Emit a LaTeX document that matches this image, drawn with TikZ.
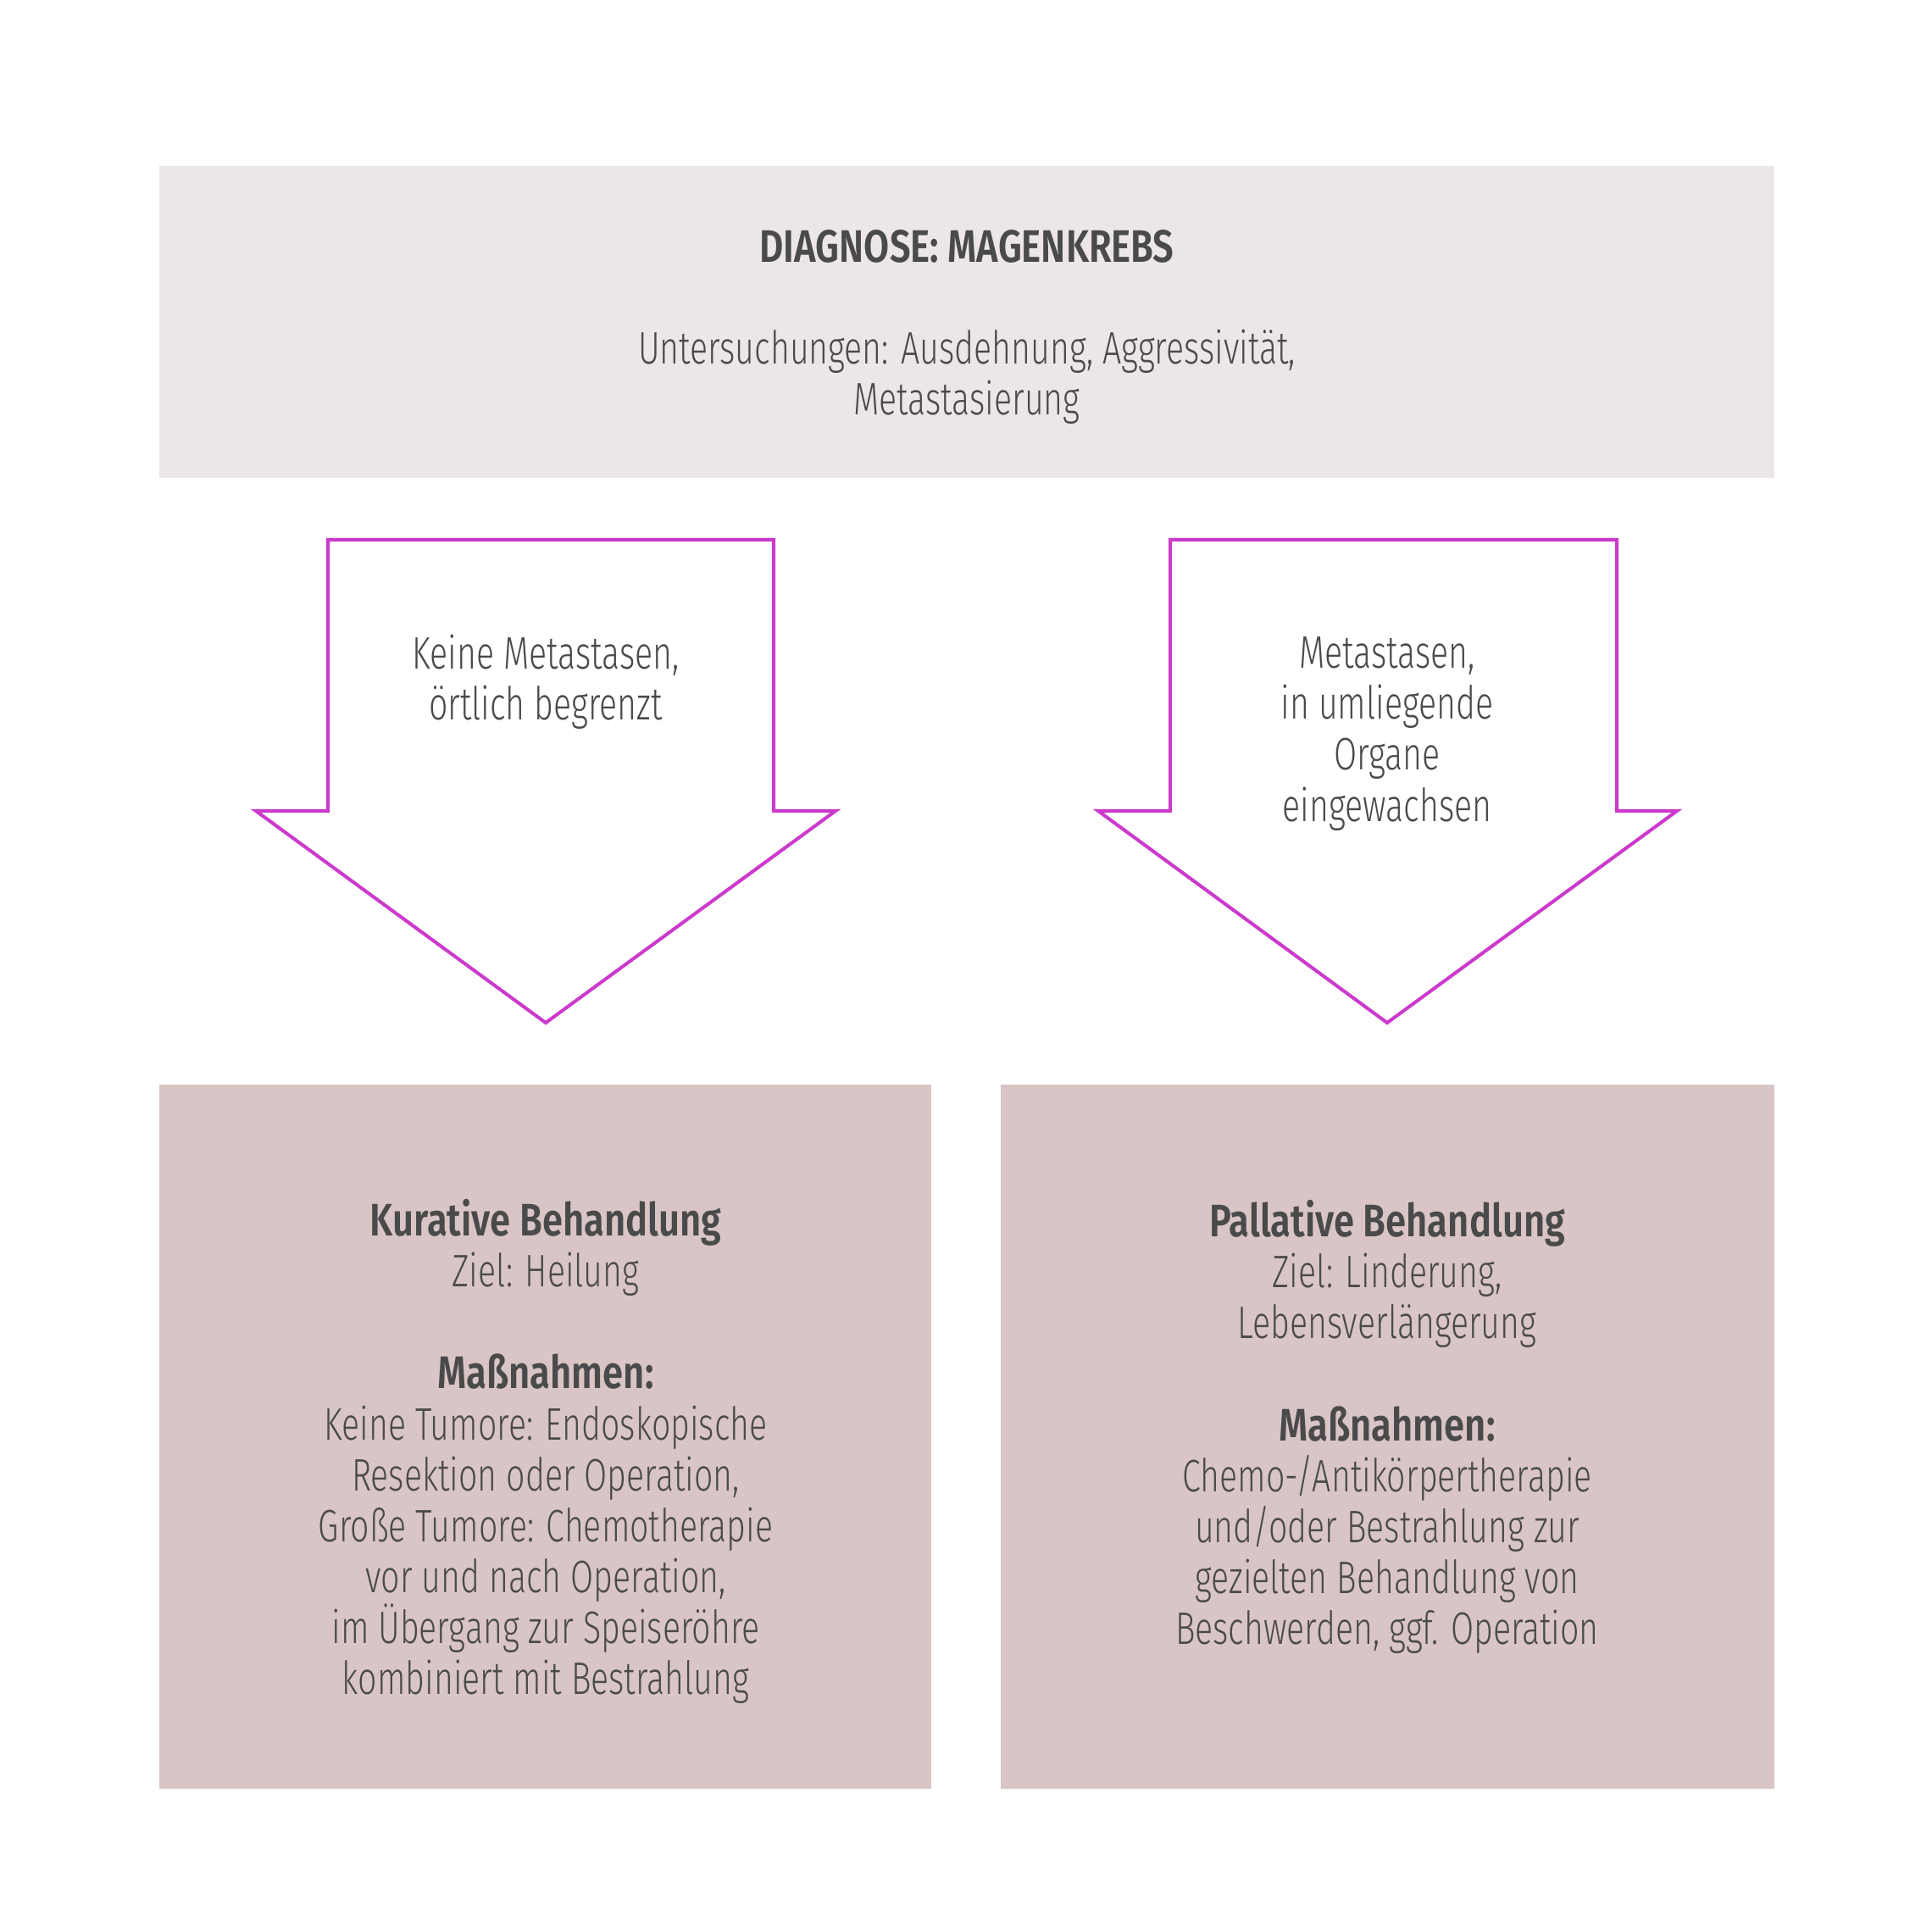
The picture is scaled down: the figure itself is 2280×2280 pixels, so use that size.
\documentclass[tikz,border=0pt]{standalone}
\usepackage{fontspec}
\setmainfont{Fira Sans}[UprightFont=* Light, BoldFont=* SemiBold, UprightFeatures={FakeStretch=0.73}, BoldFeatures={FakeStretch=0.81}]
\usepackage{tikz}
\definecolor{textgray}{HTML}{4A4A4A}
\definecolor{topfill}{HTML}{ECE6E6}
\definecolor{boxfill}{HTML}{D9C5C6}
\definecolor{magenta}{HTML}{CC3ACC}

\begin{document}
\begin{tikzpicture}[x=0.01cm,y=-0.01cm]
        \tikzstyle{txt}=[text=textgray,align=center,font=\fontsize{15.3}{17.1}\selectfont,inner sep=0pt]
        \tikzstyle{arrow shape}=[draw=magenta,line width=1.15pt,fill=white,line join=miter]
        \useasboundingbox[fill=white] (0,0) rectangle (2280,2280);

        % boxes
        \fill[topfill] (188,196) rectangle (2094,564);
        \fill[boxfill] (188,1280) rectangle (1099,2111);
        \fill[boxfill] (1181,1280) rectangle (2094,2111);

        % arrows
        \draw[arrow shape] (387,637) -- (913,637) -- (913,957) -- (986,957) -- (644,1207) -- (302,957) -- (387,957) -- cycle;
        \draw[arrow shape] (1381,637) -- (1908,637) -- (1908,957) -- (1979,957) -- (1637,1207) -- (1296,957) -- (1381,957) -- cycle;

        \node[txt] (diag) at (1141,386) {\textbf{DIAGNOSE: MAGENKREBS}\\[17.1pt]
            Untersuchungen: Ausdehnung, Aggressivität,\\Metastasierung};
        \node[txt] (keine) at (644,805) {Keine Metastasen,\\örtlich begrenzt};
        \node[txt] (meta) at (1637,866) {Metastasen,\\in umliegende\\Organe\\eingewachsen};
        \node[txt] (kurativ) at (644,1713) {\textbf{Kurative Behandlung}\\Ziel: Heilung\\[17.1pt]
            \textbf{Maßnahmen:}\\Keine Tumore: Endoskopische\\Resektion oder Operation,\\Große Tumore: Chemotherapie\\vor und nach Operation,\\im Übergang zur Speiseröhre\\kombiniert mit Bestrahlung};
        \node[txt] (palliativ) at (1637,1684) {\textbf{Pallative Behandlung}\\Ziel: Linderung,\\Lebensverlängerung\\[17.1pt]
            \textbf{Maßnahmen:}\\Chemo-/Antikörpertherapie\\und/oder Bestrahlung zur\\gezielten Behandlung von\\Beschwerden, ggf. Operation};
    \end{tikzpicture}
\end{document}
